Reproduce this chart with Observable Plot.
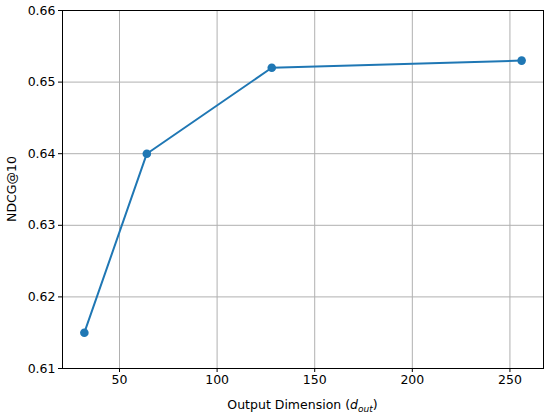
<!DOCTYPE html>
<html><head><meta charset="utf-8">
<script src="https://cdn.jsdelivr.net/npm/d3@7"></script>
<script src="https://cdn.jsdelivr.net/npm/@observablehq/plot@0.6"></script>
<style>body{margin:0;background:#fff;font-family:"DejaVu Sans",sans-serif}</style>
</head><body><div id="chart"></div>
<script>
const dims = [32, 64, 128, 256];
const ndcg = [0.615, 0.640, 0.652, 0.653];
const xTicks = [50, 100, 150, 200, 250];
const yTicks = [0.61, 0.62, 0.63, 0.64, 0.65, 0.66];
const data = dims.map((d, i) => ({d, v: ndcg[i]}));

const W = 550, H = 416, mL = 62, mR = 7, mT = 10, mB = 48;
const plot = Plot.plot({
  width: W, height: H,
  marginLeft: mL, marginRight: mR, marginTop: mT, marginBottom: mB,
  style: {fontFamily: "DejaVu Sans, sans-serif", fontSize: "12.5px", color: "#000", background: "#fff"},
  x: {domain: [20.8, 267.2], ticks: xTicks, label: null},
  y: {domain: [0.61, 0.66], ticks: yTicks, label: null, tickFormat: d3.format(".2f")},
  marks: [
    Plot.gridX(xTicks, {stroke: "#b0b0b0", strokeOpacity: 1, strokeWidth: 1}),
    Plot.gridY(yTicks, {stroke: "#b0b0b0", strokeOpacity: 1, strokeWidth: 1}),
    Plot.axisX(xTicks, {tickSize: 4, tickPadding: 3, stroke: "#000", fontSize: 12.5}),
    Plot.axisY(yTicks, {tickSize: 4, tickPadding: 3, stroke: "#000", fontSize: 12.5, tickFormat: d3.format(".2f")}),
    Plot.line(data, {x: "d", y: "v", stroke: "#1f77b4", strokeWidth: 2}),
    Plot.dot(data, {x: "d", y: "v", fill: "#1f77b4", r: 4.3}),
    Plot.frame({stroke: "#000", strokeWidth: 1})
  ]
});
const svg = d3.select(plot);
const cx = (mL + (W - mR)) / 2;
const t = svg.append("text").attr("x", cx).attr("y", 409).attr("text-anchor", "middle")
  .attr("font-family", "DejaVu Sans, sans-serif").attr("font-size", 12.5).attr("fill", "#000");
t.append("tspan").text("Output Dimension (");
t.append("tspan").attr("font-style", "italic").text("d");
t.append("tspan").attr("font-style", "italic").attr("font-size", 9).attr("dy", 3).text("out");
t.append("tspan").attr("dy", -3).text(")");
svg.append("text").attr("transform", `translate(16,${(mT + H - mB) / 2}) rotate(-90)`)
  .attr("text-anchor", "middle").attr("font-family", "DejaVu Sans, sans-serif")
  .attr("font-size", 12.5).attr("fill", "#000").text("NDCG@10");
document.getElementById("chart").appendChild(plot);
</script></body></html>
